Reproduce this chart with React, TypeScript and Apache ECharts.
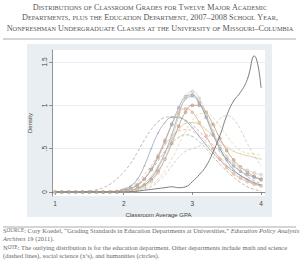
import React, { useEffect, useRef } from "react";
import * as echarts from "echarts";

const gpa = [1.0, 1.1, 1.2, 1.3, 1.4, 1.5, 1.6, 1.7, 1.8, 1.9, 2.0, 2.1, 2.2, 2.3, 2.4, 2.5, 2.6, 2.7, 2.8, 2.9, 3.0, 3.1, 3.2, 3.3, 3.4, 3.5, 3.6, 3.7, 3.8, 3.9, 4.0];

const education = [0, 0, 0, 0, 0, 0, 0, 0, 0, 0, 0, 0.005, 0.01, 0.02, 0.03, 0.04, 0.05, 0.06, 0.05, 0.06, 0.12, 0.2, 0.3, 0.46, 0.65, 0.88, 1.05, 1.15, 1.3, 1.57, 1.2];
const deptA = [0, 0, 0, 0, 0.005, 0.01, 0.025, 0.05, 0.09, 0.15, 0.23, 0.33, 0.46, 0.6, 0.72, 0.81, 0.86, 0.87, 0.86, 0.83, 0.77, 0.7, 0.62, 0.54, 0.46, 0.38, 0.31, 0.24, 0.18, 0.13, 0.1];
const deptB = [0, 0, 0, 0, 0, 0, 0, 0, 0, 0.01, 0.03, 0.07, 0.15, 0.3, 0.5, 0.68, 0.8, 0.86, 0.86, 0.82, 0.74, 0.64, 0.54, 0.45, 0.37, 0.3, 0.24, 0.19, 0.15, 0.11, 0.08];
const deptC = [0, 0, 0, 0, 0, 0, 0, 0, 0, 0, 0.02, 0.04, 0.08, 0.15, 0.26, 0.4, 0.58, 0.78, 0.97, 1.1, 1.12, 1.03, 0.86, 0.66, 0.5, 0.38, 0.3, 0.24, 0.2, 0.17, 0.14];
const deptD = [0, 0, 0, 0, 0, 0, 0, 0, 0, 0, 0.01, 0.02, 0.04, 0.08, 0.16, 0.28, 0.45, 0.66, 0.9, 1.07, 1.1, 1.02, 0.87, 0.68, 0.5, 0.36, 0.26, 0.19, 0.14, 0.1, 0.08];
const deptE = [0, 0, 0, 0, 0, 0, 0, 0, 0, 0, 0.01, 0.02, 0.03, 0.06, 0.12, 0.22, 0.38, 0.6, 0.87, 1.1, 1.16, 1.08, 0.9, 0.7, 0.53, 0.41, 0.33, 0.28, 0.25, 0.22, 0.2];
const deptF = [0, 0, 0, 0, 0, 0, 0, 0, 0, 0, 0.01, 0.02, 0.04, 0.08, 0.14, 0.24, 0.38, 0.56, 0.76, 0.92, 1.0, 1.0, 0.92, 0.78, 0.62, 0.48, 0.37, 0.29, 0.23, 0.18, 0.15];
const deptG = [0, 0, 0, 0, 0, 0, 0, 0, 0, 0, 0, 0.01, 0.02, 0.04, 0.08, 0.15, 0.25, 0.38, 0.54, 0.7, 0.83, 0.9, 0.91, 0.86, 0.76, 0.65, 0.55, 0.48, 0.45, 0.44, 0.42];
const deptH = [0, 0, 0, 0, 0, 0, 0, 0, 0, 0, 0, 0, 0.01, 0.03, 0.06, 0.12, 0.2, 0.3, 0.4, 0.47, 0.5, 0.53, 0.6, 0.72, 0.84, 0.88, 0.84, 0.72, 0.56, 0.42, 0.3];
const deptI = [0, 0, 0, 0, 0, 0, 0, 0, 0, 0, 0.01, 0.02, 0.05, 0.1, 0.18, 0.3, 0.45, 0.6, 0.72, 0.79, 0.8, 0.78, 0.72, 0.65, 0.58, 0.52, 0.47, 0.44, 0.42, 0.4, 0.38];
const deptJ = [0, 0, 0, 0, 0, 0, 0, 0, 0.01, 0.02, 0.04, 0.07, 0.12, 0.2, 0.3, 0.42, 0.54, 0.64, 0.7, 0.72, 0.7, 0.65, 0.57, 0.48, 0.4, 0.32, 0.25, 0.19, 0.14, 0.1, 0.07];
const deptK = [0, 0, 0, 0, 0, 0, 0, 0, 0, 0.01, 0.02, 0.05, 0.09, 0.16, 0.25, 0.36, 0.47, 0.56, 0.63, 0.66, 0.64, 0.58, 0.5, 0.41, 0.32, 0.24, 0.17, 0.11, 0.06, 0.03, 0.01];
const deptL = [0, 0, 0, 0, 0, 0, 0, 0, 0, 0, 0.02, 0.04, 0.08, 0.15, 0.26, 0.42, 0.6, 0.78, 0.92, 0.96, 0.92, 0.8, 0.65, 0.5, 0.38, 0.28, 0.21, 0.16, 0.12, 0.09, 0.07];

const xTicks = [1, 2, 3, 4];
const yTicks = [0, 0.5, 1, 1.5];
const yTickLabels = ["0", ".5", "1", "1.5"];

const titleLines = [
  "Distributions of Classroom Grades for Twelve Major Academic",
  "Departments, plus the Education Department, 2007–2008 School Year,",
  "Nonfreshman Undergraduate Classes at the University of Missouri–Columbia",
];

const CROSS = "path://M0,0L10,10M10,0L0,10";

function smallCaps(s: string): string {
  return s.replace(/([a-z]+)|([^a-z]+)/g, (m, lo) =>
    lo ? `{s|${lo.toUpperCase()}}` : `{c|${m}}`
  );
}

type Kind = "dash" | "circle" | "cross" | "solid";
const seriesDefs: { name: string; data: number[]; color: string; kind: Kind }[] = [
  { name: "A", data: deptA, color: "#a4979d", kind: "dash" },
  { name: "K", data: deptK, color: "#9a9a9a", kind: "dash" },
  { name: "J", data: deptJ, color: "#dcab94", kind: "dash" },
  { name: "H", data: deptH, color: "#bbbbbb", kind: "dash" },
  { name: "G", data: deptG, color: "#ddd092", kind: "dash" },
  { name: "B", data: deptB, color: "#8595aa", kind: "cross" },
  { name: "D", data: deptD, color: "#7d9abf", kind: "cross" },
  { name: "I", data: deptI, color: "#d3c292", kind: "cross" },
  { name: "L", data: deptL, color: "#dca882", kind: "circle" },
  { name: "F", data: deptF, color: "#b58a76", kind: "circle" },
  { name: "C", data: deptC, color: "#9a9aa2", kind: "circle" },
  { name: "E", data: deptE, color: "#cfc8b2", kind: "circle" },
  { name: "Education", data: education, color: "#6e6e6e", kind: "solid" },
];

export default function App() {
  const ref = useRef<HTMLDivElement>(null);
  useEffect(() => {
    if (!ref.current) return;
    const chart = echarts.init(ref.current, null, { renderer: "svg" });
    const series = seriesDefs.map((d) => {
      const base: any = {
        type: "line",
        name: d.name,
        data: gpa.map((x, i) => [x, d.data[i]]),
        smooth: true,
        z: d.kind === "solid" ? 5 : 3,
        lineStyle: {
          color: d.color,
          width: d.kind === "solid" ? 0.9 : 0.7,
          type: d.kind === "dash" ? [3, 2] : "solid",
        },
      };
      if (d.kind === "circle") {
        base.symbol = "emptyCircle";
        base.symbolSize = 1.7;
        base.itemStyle = { color: d.color, borderColor: d.color, borderWidth: 0.35, opacity: 0.6 };
      } else if (d.kind === "cross") {
        base.symbol = CROSS;
        base.symbolSize = 2;
        base.itemStyle = { color: "none", borderColor: d.color, borderWidth: 0.35, opacity: 0.7 };
      } else {
        base.symbol = "none";
        base.showSymbol = false;
      }
      return base;
    });

    const titleY = [7, 17.5, 28.5];
    const fs = 6.5;
    const foot = { fontFamily: "Liberation Serif", fill: "#666", lineHeight: 8 };
    const graphic: any[] = [
      {
        type: "rect",
        z: -10,
        silent: true,
        shape: { x: 27, y: 44, width: 245, height: 173 },
        style: { fill: "#e9eef2" },
      },
      {
        type: "line",
        shape: { x1: 3, y1: 39, x2: 296, y2: 39 },
        style: { stroke: "#888", lineWidth: 0.7 },
      },
      {
        type: "line",
        shape: { x1: 3, y1: 227, x2: 296, y2: 227 },
        style: { stroke: "#888", lineWidth: 0.7 },
      },
      ...titleLines.map((t, i) => ({
        type: "text",
        x: 150,
        y: titleY[i],
        style: {
          text: smallCaps(t),
          align: "center",
          verticalAlign: "middle",
          fill: "#555",
          rich: {
            c: { fontSize: 8.2, fontFamily: "Liberation Serif", fill: "#555" },
            s: { fontSize: 6.3, fontFamily: "Liberation Serif", fill: "#555" },
          },
        },
      })),
      {
        type: "text",
        x: 3,
        y: 234,
        style: {
          text:
            "{c|S}{s|OURCE}{n|: Cory Koedel, “Grading Standards in Education Departments at Universities,” }{i|Education Policy Analysis}\n{i|Archives}{n| 19 (2011).}",
          align: "left",
          verticalAlign: "middle",
          fill: "#666",
          rich: {
            c: { ...foot, fontSize: fs },
            s: { ...foot, fontSize: fs * 0.8 },
            n: { ...foot, fontSize: fs },
            i: { ...foot, fontSize: fs, fontStyle: "italic" },
          },
        },
      },
      {
        type: "text",
        x: 3,
        y: 251,
        style: {
          text:
            "{c|N}{s|OTE}{n|: The outlying distribution is for the education department. Other departments include math and science}\n{n|(dashed lines), social science (x’s), and humanities (circles).}",
          align: "left",
          verticalAlign: "middle",
          fill: "#666",
          rich: {
            c: { ...foot, fontSize: fs },
            s: { ...foot, fontSize: fs * 0.8 },
            n: { ...foot, fontSize: fs },
          },
        },
      },
    ];

    chart.setOption({
      animation: false,
      graphic,
      grid: {
        left: 52,
        right: 35,
        top: 50,
        height: 146,
        show: true,
        backgroundColor: "#ffffff",
        borderWidth: 0,
        containLabel: false,
      },
      xAxis: {
        type: "value",
        min: 0.956,
        max: 4.057,
        name: "Classroom Average GPA",
        nameLocation: "middle",
        nameGap: 14,
        nameTextStyle: { fontSize: 6, color: "#444", fontFamily: "Liberation Sans" },
        axisLine: { show: true, lineStyle: { color: "#666", width: 0.7 } },
        axisTick: { show: true, customValues: xTicks, length: 3, lineStyle: { color: "#666", width: 0.7 } },
        axisLabel: {
          customValues: xTicks,
          fontSize: 6.5,
          color: "#444",
          margin: 4,
          fontFamily: "Liberation Sans",
        },
        splitLine: { show: false },
      },
      yAxis: {
        type: "value",
        min: -0.046,
        max: 1.638,
        name: "Density",
        nameLocation: "middle",
        nameGap: 16,
        nameRotate: 90,
        nameTextStyle: { fontSize: 6, color: "#444", fontFamily: "Liberation Sans" },
        axisLine: { show: true, lineStyle: { color: "#666", width: 0.7 } },
        axisTick: { show: true, customValues: yTicks, length: 3, lineStyle: { color: "#666", width: 0.7 } },
        axisLabel: {
          customValues: yTicks,
          rotate: 90,
          fontSize: 6.5,
          color: "#444",
          margin: 4,
          fontFamily: "Liberation Sans",
          formatter: (v: number) => yTickLabels[yTicks.indexOf(v)] ?? String(v),
        },
        splitLine: { show: true, lineStyle: { color: "#e3e9ee", width: 0.8 } },
      },
      series,
    });
    return () => chart.dispose();
  }, []);
  return <div ref={ref} style={{ width: 300, height: 270, position: "absolute", left: 0, top: 0 }} />;
}
